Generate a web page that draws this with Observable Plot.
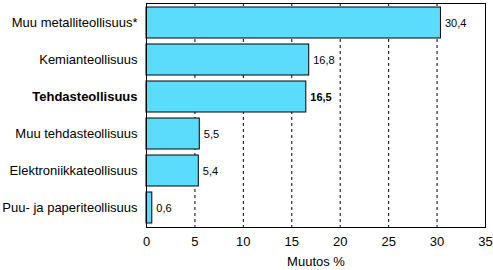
<!DOCTYPE html>
<html>
<head>
<meta charset="utf-8">
<script src="https://cdn.jsdelivr.net/npm/d3@7"></script>
<script src="https://cdn.jsdelivr.net/npm/@observablehq/plot@0.6"></script>
<style>
  html, body { margin: 0; padding: 0; background: #fff; }
  svg { font-family: "Liberation Sans", Arial, sans-serif; }
</style>
</head>
<body>
<div id="chart"></div>
<script>
const categories = ["Muu metalliteollisuus*", "Kemianteollisuus", "Tehdasteollisuus", "Muu tehdasteollisuus", "Elektroniikkateollisuus", "Puu- ja paperiteollisuus"];
const values = [30.4, 16.8, 16.5, 5.5, 5.4, 0.6];
const boldCategory = "Tehdasteollisuus";
const xTicks = [0, 5, 10, 15, 20, 25, 30, 35];
const gridTicks = [5, 10, 15, 20, 25, 30];
const xLabel = "Muutos %";

const data = categories.map((c, i) => ({cat: c, value: values[i], bold: c === boldCategory}));
const fmt = v => String(v).replace(".", ",");

const chart = Plot.plot({
  width: 493,
  height: 270,
  marginLeft: 146,
  marginRight: 8,
  marginTop: 3,
  marginBottom: 43,
  style: {fontFamily: "'Liberation Sans', Arial, sans-serif", fontSize: "13px", color: "#000", background: "#fff"},
  x: {domain: [0, 35], ticks: xTicks},
  y: {domain: categories, paddingInner: 0.16, paddingOuter: 0.05},
  marks: [
    Plot.ruleX(gridTicks, {stroke: "#000", strokeDasharray: "3,3", strokeWidth: 1}),
    Plot.barX(data, {x: "value", y: "cat", fill: "#5bdcfd", stroke: "#000", strokeWidth: 1}),
    Plot.text(data.filter(d => !d.bold), {x: "value", y: "cat", text: d => fmt(d.value), textAnchor: "start", dx: 4, fill: "#000", fontSize: 11}),
    Plot.text(data.filter(d => d.bold), {x: "value", y: "cat", text: d => fmt(d.value), textAnchor: "start", dx: 4, fill: "#000", fontSize: 11, fontWeight: "bold"}),
    Plot.text(data.filter(d => !d.bold), {x: 0, y: "cat", text: "cat", textAnchor: "end", dx: -9, fill: "#000", fontSize: 13}),
    Plot.text(data.filter(d => d.bold), {x: 0, y: "cat", text: "cat", textAnchor: "end", dx: -9, fill: "#000", fontSize: 13, fontWeight: "bold"}),
    Plot.axisX({ticks: xTicks, tickSize: 0, tickPadding: 9, fontSize: 13, label: xLabel, labelAnchor: "center", labelArrow: "none", labelOffset: 38}),
    Plot.axisY({ticks: [], label: null}),
    Plot.frame({stroke: "#000", strokeWidth: 1})
  ]
});
document.getElementById("chart").appendChild(chart);
</script>
</body>
</html>
